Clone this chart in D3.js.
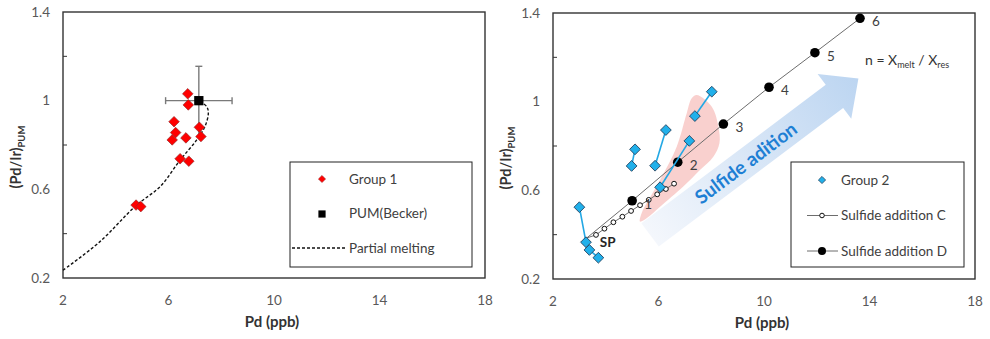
<!DOCTYPE html>
<html>
<head>
<meta charset="utf-8">
<script src="https://cdn.jsdelivr.net/npm/d3@7"></script>
<style>
  body { margin: 0; background: #fff; }
  svg { display: block; font-family: Lato, "Open Sans", sans-serif; }
</style>
</head>
<body>
<div id="chart"></div>
<script>
////////////////////////////////////////////////////////
//////////////////// Data //////////////////////////////
////////////////////////////////////////////////////////

let xTicks = [2, 6, 10, 14, 18];
let yTicks = [0.2, 0.6, 1, 1.4];
let yMinor = [0.4, 0.8, 1.2];

// left panel: group 1 samples
let g1Pd = [6.73, 6.75, 6.21, 6.27, 6.14, 6.66, 7.17, 7.23, 6.44, 6.77, 4.77, 4.95];
let g1Ratio = [1.031, 0.981, 0.905, 0.856, 0.823, 0.832, 0.880, 0.838, 0.738, 0.727, 0.529, 0.522];

// PUM (Becker) with error bars
let pumPd = 7.15, pumRatio = 1.0, pumPdErr = 1.26, pumRatioErr = 0.155;

// partial melting curve
let meltPd = [2.0, 3.40, 4.76, 5.68, 6.44, 7.07, 7.38, 7.51, 7.45, 7.15];
let meltRatio = [0.235, 0.364, 0.526, 0.612, 0.732, 0.823, 0.883, 0.943, 0.973, 1.0];

// right panel: group 2 samples, linked in pairs
let g2Pd = [3.00, 3.25, 3.38, 3.72, 5.11, 4.98, 6.28, 5.87, 7.17, 6.06, 7.38, 8.02];
let g2Ratio = [0.524, 0.366, 0.331, 0.296, 0.785, 0.710, 0.872, 0.711, 0.823, 0.614, 0.935, 1.045];
let g2Pair = [0, 0, 1, 1, 2, 2, 3, 3, 4, 4, 5, 5];

// starting point SP
let spPd = 3.28, spRatio = 0.385;

// sulfide addition C
let cPd = [3.63, 3.95, 4.29, 4.63, 4.96, 5.30, 5.63, 5.95, 6.28, 6.59];
let cRatio = [0.399, 0.427, 0.456, 0.481, 0.507, 0.533, 0.557, 0.582, 0.606, 0.630];

// sulfide addition D, n = 1..6
let dN = [1, 2, 3, 4, 5, 6];
let dPd = [5.00, 6.73, 8.46, 10.19, 11.93, 13.64];
let dRatio = [0.553, 0.727, 0.899, 1.065, 1.221, 1.376];

// shaded field
let fieldPd = [7.45, 8.02, 8.27, 8.31, 8.08, 7.57, 6.94, 6.06, 5.55, 5.30, 5.36, 6.06, 6.69, 7.07, 7.26];
let fieldRatio = [1.030, 0.977, 0.887, 0.812, 0.752, 0.692, 0.617, 0.526, 0.474, 0.459, 0.497, 0.647, 0.797, 0.948, 1.015];

// arrow start / end
let arrowPd = [5.68, 13.58];
let arrowRatio = [0.399, 1.105];

////////////////////////////////////////////////////////
//////////////////// Setup /////////////////////////////
////////////////////////////////////////////////////////

let width = 990, height = 339;
let tickColor = "#595959";
let titleColor = "#333";

const svg = d3.select("#chart").append("svg")
  .attr("width", width)
  .attr("height", height);

let diamond = size => d3.symbol(d3.symbolSquare, size)();

let panel = function(box, titleX) {
  const x = d3.scaleLinear().domain([2, 18]).range([box.left, box.right]);
  const y = d3.scaleLinear().domain([0.2, 1.4]).range([box.bottom, box.top]);
  const g = svg.append("g");

  g.append("rect")
    .attr("x", box.left).attr("y", box.top)
    .attr("width", box.right - box.left).attr("height", box.bottom - box.top)
    .attr("fill", "none").attr("stroke", "#333").attr("stroke-width", 1.4);

  g.selectAll(".minor").data(yMinor).join("line")
    .attr("x1", box.left).attr("x2", box.left + 4)
    .attr("y1", d => y(d)).attr("y2", d => y(d))
    .attr("stroke", "#333");

  g.selectAll(".xt").data(xTicks).join("text")
    .attr("x", d => x(d)).attr("y", box.bottom + 27)
    .attr("text-anchor", "middle").attr("font-size", 13.5)
    .attr("fill", tickColor).text(d => d);

  g.selectAll(".yt").data(yTicks).join("text")
    .attr("x", box.left - 13).attr("y", d => y(d)).attr("dy", "0.35em")
    .attr("text-anchor", "end").attr("font-size", 13.5)
    .attr("fill", tickColor).text(d => d);

  g.append("text")
    .attr("x", (box.left + box.right) / 2 - 2).attr("y", box.bottom + 49)
    .attr("text-anchor", "middle").attr("font-size", 15).attr("font-weight", "bold")
    .attr("fill", titleColor).text("Pd (ppb)");

  const yt = g.append("text")
    .attr("transform", `translate(${titleX},${(box.top + box.bottom) / 2 + 12}) rotate(-90)`)
    .attr("text-anchor", "middle").attr("font-size", 14.5).attr("font-weight", "bold")
    .attr("fill", titleColor);
  yt.append("tspan").text("(Pd/Ir)");
  yt.append("tspan").attr("font-size", 9.5).attr("dy", 4).text("PUM");

  return { x, y, g };
};

////////////////////////////////////////////////////////
//////////////////// Left panel ////////////////////////
////////////////////////////////////////////////////////

let L = panel({ left: 63, right: 485, top: 12, bottom: 278 }, 21);

let meltLine = d3.line()
  .x(d => L.x(d[0])).y(d => L.y(d[1]))
  .curve(d3.curveCatmullRom.alpha(0.5));

L.g.append("path")
  .datum(d3.zip(meltPd, meltRatio))
  .attr("d", meltLine)
  .attr("fill", "none").attr("stroke", "#111").attr("stroke-width", 1.4)
  .attr("stroke-dasharray", "3,2");

// error bars
let err = L.g.append("g").attr("stroke", "#7a7a7a").attr("stroke-width", 1.4);
err.append("line")
  .attr("x1", L.x(pumPd - pumPdErr)).attr("x2", L.x(pumPd + pumPdErr))
  .attr("y1", L.y(pumRatio)).attr("y2", L.y(pumRatio));
err.append("line")
  .attr("x1", L.x(pumPd)).attr("x2", L.x(pumPd))
  .attr("y1", L.y(pumRatio - pumRatioErr)).attr("y2", L.y(pumRatio + pumRatioErr));
[pumPd - pumPdErr, pumPd + pumPdErr].forEach(v => err.append("line")
  .attr("x1", L.x(v)).attr("x2", L.x(v))
  .attr("y1", L.y(pumRatio) - 3.5).attr("y2", L.y(pumRatio) + 3.5));
err.append("line")
  .attr("x1", L.x(pumPd) - 3.5).attr("x2", L.x(pumPd) + 3.5)
  .attr("y1", L.y(pumRatio + pumRatioErr)).attr("y2", L.y(pumRatio + pumRatioErr));

L.g.selectAll(".g1").data(d3.zip(g1Pd, g1Ratio)).join("path")
  .attr("d", diamond(56))
  .attr("transform", d => `translate(${L.x(d[0])},${L.y(d[1])}) rotate(45)`)
  .attr("fill", "#ff0000").attr("stroke", "#8c2a2a").attr("stroke-width", 0.6);

L.g.append("path")
  .attr("d", d3.symbol(d3.symbolSquare, 86)())
  .attr("transform", `translate(${L.x(pumPd)},${L.y(pumRatio)})`)
  .attr("fill", "#000");

// legend
let lg = L.g.append("g");
lg.append("rect").attr("x", 290).attr("y", 162).attr("width", 182).attr("height", 105)
  .attr("fill", "#fff").attr("stroke", "#222").attr("stroke-width", 1);
lg.append("path").attr("d", diamond(26))
  .attr("transform", "translate(322,179) rotate(45)")
  .attr("fill", "#ff0000").attr("stroke", "#8c2a2a").attr("stroke-width", 0.5);
lg.append("path").attr("d", d3.symbol(d3.symbolSquare, 52)())
  .attr("transform", "translate(322,214)").attr("fill", "#000");
lg.append("line").attr("x1", 292).attr("x2", 345).attr("y1", 248).attr("y2", 248)
  .attr("stroke", "#111").attr("stroke-width", 1.3).attr("stroke-dasharray", "3,2");
lg.selectAll(".lt").data(["Group 1", "PUM(Becker)", "Partial melting"]).join("text")
  .attr("x", 349).attr("y", (d, i) => 179 + i * 34.5).attr("dy", "0.35em")
  .attr("font-size", 13.5).attr("fill", "#404040").text(d => d);

////////////////////////////////////////////////////////
//////////////////// Right panel ///////////////////////
////////////////////////////////////////////////////////

let R = panel({ left: 553, right: 975, top: 13, bottom: 279 }, 511);

// shaded field
R.g.append("path")
  .datum(d3.zip(fieldPd, fieldRatio))
  .attr("d", d3.line().x(d => R.x(d[0])).y(d => R.y(d[1])).curve(d3.curveCatmullRomClosed))
  .attr("fill", "#f8c8c5").attr("opacity", 0.85);

// arrow
let defs = svg.append("defs");
let grad = defs.append("linearGradient").attr("id", "arrowGrad")
  .attr("x1", 0).attr("x2", 1).attr("y1", 0).attr("y2", 0);
grad.append("stop").attr("offset", 0).attr("stop-color", "#f4f7fc");
grad.append("stop").attr("offset", 1).attr("stop-color", "#bcd5f1");

let a0 = [R.x(arrowPd[0]), R.y(arrowRatio[0])];
let a1 = [R.x(arrowPd[1]), R.y(arrowRatio[1])];
let aLen = Math.hypot(a1[0] - a0[0], a1[1] - a0[1]);
let aAng = Math.atan2(a1[1] - a0[1], a1[0] - a0[0]) * 180 / Math.PI;
let hw = 14.5, HW = 28, hl = 30;
let arrow = R.g.append("g").attr("transform", `translate(${a0[0]},${a0[1]}) rotate(${aAng})`);
arrow.append("path")
  .attr("d", `M0,${-hw}L${aLen - hl},${-hw}L${aLen - hl},${-HW}L${aLen},0L${aLen - hl},${HW}L${aLen - hl},${hw}L0,${hw}Z`)
  .attr("fill", "url(#arrowGrad)");
arrow.append("text")
  .attr("x", aLen * 0.46).attr("y", 0).attr("dy", "0.36em")
  .attr("text-anchor", "middle").attr("font-size", 19).attr("font-weight", "bold")
  .attr("font-variant-ligatures", "none")
  .attr("fill", "#1e7fd4").text("Sulfide adition");

let lineXY = d3.line().x(d => R.x(d[0])).y(d => R.y(d[1]));

// sulfide addition C
R.g.append("path")
  .datum([[spPd, spRatio]].concat(d3.zip(cPd, cRatio)))
  .attr("d", lineXY).attr("fill", "none").attr("stroke", "#6d6d6d").attr("stroke-width", 1);
R.g.selectAll(".c").data(d3.zip(cPd, cRatio)).join("circle")
  .attr("cx", d => R.x(d[0])).attr("cy", d => R.y(d[1])).attr("r", 2.4)
  .attr("fill", "#fff").attr("stroke", "#111").attr("stroke-width", 1);

// sulfide addition D
R.g.append("path")
  .datum([[spPd, spRatio]].concat(d3.zip(dPd, dRatio)))
  .attr("d", lineXY).attr("fill", "none").attr("stroke", "#6d6d6d").attr("stroke-width", 1);
R.g.selectAll(".d").data(d3.zip(dPd, dRatio)).join("circle")
  .attr("cx", d => R.x(d[0])).attr("cy", d => R.y(d[1])).attr("r", 4.8)
  .attr("fill", "#000");
R.g.selectAll(".dl").data(d3.zip(dPd, dRatio, dN)).join("text")
  .attr("x", d => R.x(d[0]) + 12).attr("y", d => R.y(d[1]) + 8)
  .attr("font-size", 13.5).attr("fill", "#404040").text(d => d[2]);

// group 2 pairs
let g2 = d3.range(g2Pd.length).map(i => ({ pd: g2Pd[i], r: g2Ratio[i], pair: g2Pair[i] }));
R.g.selectAll(".pair").data(d3.groups(g2, d => d.pair)).join("path")
  .attr("d", d => lineXY(d[1].map(p => [p.pd, p.r])))
  .attr("fill", "none").attr("stroke", "#23a8e4").attr("stroke-width", 1.6);
R.g.selectAll(".g2").data(g2).join("path")
  .attr("d", diamond(58))
  .attr("transform", d => `translate(${R.x(d.pd)},${R.y(d.r)}) rotate(45)`)
  .attr("fill", "#21b0ea").attr("stroke", "#1d3a57").attr("stroke-width", 0.8);

R.g.append("text")
  .attr("x", R.x(spPd) + 13).attr("y", R.y(spRatio) + 9)
  .attr("font-size", 13.5).attr("font-weight", "bold").attr("fill", "#262626").text("SP");

// n = Xmelt / Xres
let nt = R.g.append("text")
  .attr("x", R.x(13.83)).attr("y", R.y(1.188) + 5)
  .attr("font-size", 14).attr("fill", "#333");
nt.append("tspan").text("n = X");
nt.append("tspan").attr("font-size", 9).attr("dy", 3).text("melt");
nt.append("tspan").attr("dy", -3).text(" / X");
nt.append("tspan").attr("font-size", 9).attr("dy", 3).text("res");

// legend
let rg = R.g.append("g");
rg.append("rect").attr("x", 791).attr("y", 162).attr("width", 173).attr("height", 105)
  .attr("fill", "#fff").attr("stroke", "#222").attr("stroke-width", 1);
rg.append("path").attr("d", diamond(26))
  .attr("transform", "translate(822,180) rotate(45)")
  .attr("fill", "#21b0ea").attr("stroke", "#1d3a57").attr("stroke-width", 0.7);
[215.5, 251].forEach(yy => rg.append("line")
  .attr("x1", 807).attr("x2", 838).attr("y1", yy).attr("y2", yy)
  .attr("stroke", "#6d6d6d").attr("stroke-width", 1));
rg.append("circle").attr("cx", 822).attr("cy", 215.5).attr("r", 2.3)
  .attr("fill", "#fff").attr("stroke", "#111");
rg.append("circle").attr("cx", 822).attr("cy", 251).attr("r", 4).attr("fill", "#000");
rg.selectAll(".lt").data(["Group 2", "Sulfide addition C", "Sulfide addition D"]).join("text")
  .attr("x", 841).attr("y", (d, i) => 180 + i * 35.5).attr("dy", "0.35em")
  .attr("font-size", 13.5).attr("fill", "#404040").text(d => d);
</script>
</body>
</html>
